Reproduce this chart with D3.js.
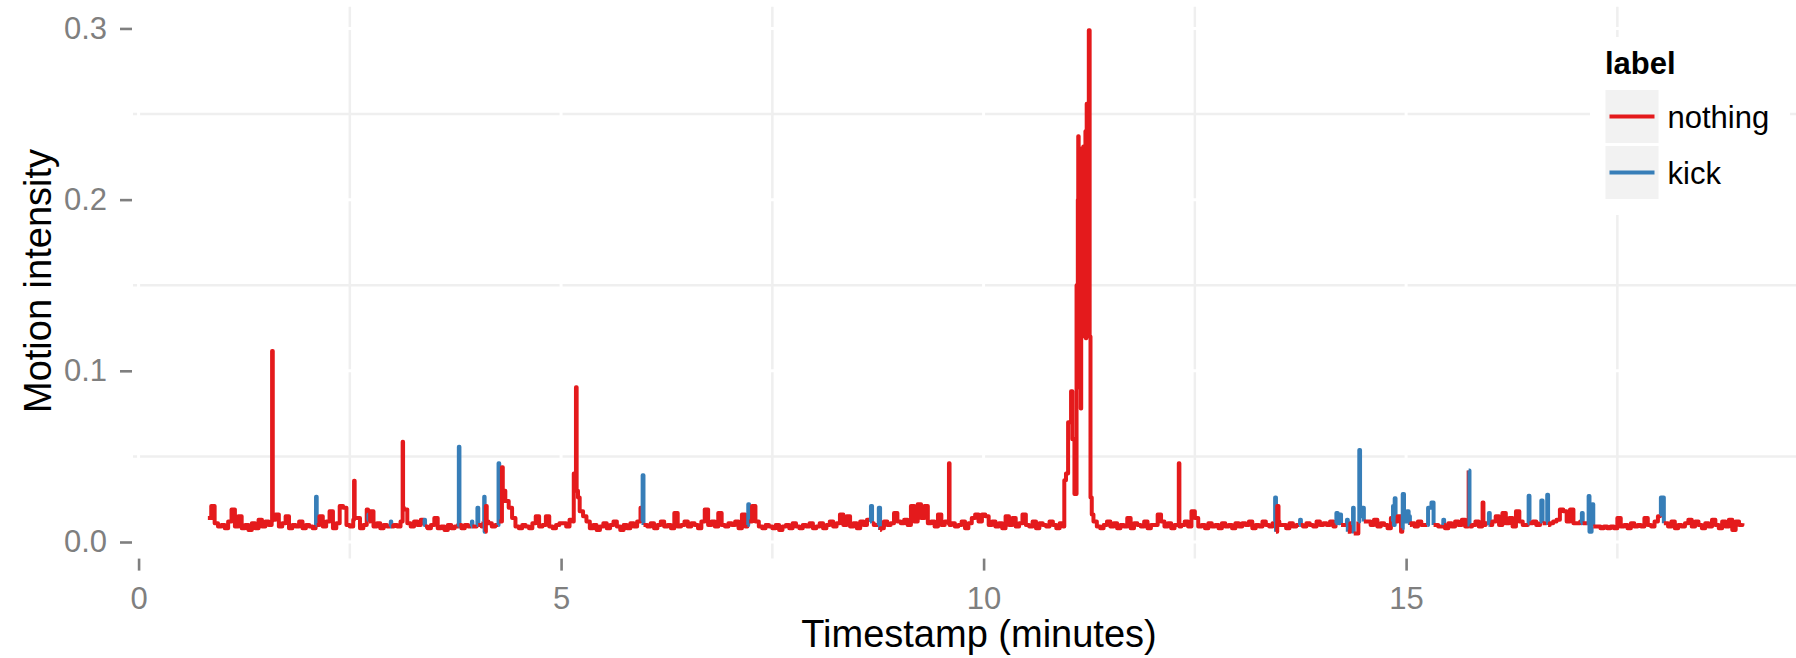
<!DOCTYPE html>
<html><head><meta charset="utf-8">
<script src="https://cdn.jsdelivr.net/npm/d3@7"></script>
<style>
body{margin:0;background:#fff;}
svg{display:block;}
text{font-family:"Liberation Sans",Arial,Helvetica,sans-serif;}
</style>
</head><body>
<svg id="chart" width="1796" height="658"></svg>
<script>
// ---------- DATA ----------
const labelNames = ["nothing", "kick"];
const labelColors = ["#E41A1C", "#377EB8"];
const xTicks = [0, 5, 10, 15];
const yTicks = [0.0, 0.1, 0.2, 0.3];
const xMinor = [2.5, 7.5, 12.5, 17.5];
const yMinor = [0.05, 0.15, 0.25];

// baseline samples (motion intensity x 1000), every 0.04 min from 0.82 min, label "nothing"
const baseStart = 0.82, baseStep = 0.04;
const baseline = [
 14,21,11,9,10,
 8,12,19,9,15,8,10,7,11,8,13,9,12,10,null,16,9,11,15,8,10,9,12,8,10,
 9,8,null,15,9,12,18,8,11,21,20,10,9,13,14,8,10,19,18,9,11,8,10,9,null,
 10,9,12,19,11,9,12,10,13,null,8,10,14,8,9,7,10,8,9,10,8,10,9,null,9,
 null,9,null,11,9,10,null,null,24,20,14,9,8,10,9,8,11,15,9,10,15,9,8,10,11,
 11,9,13,12,null,18,15,12,8,10,7,9,11,8,10,12,9,7,10,8,11,9,12,20,10,
 9,11,8,10,12,9,10,8,17,9,10,12,9,11,10,8,12,19,10,12,9,17,10,9,11,
 10,12,8,16,9,null,21,12,9,8,10,9,8,10,7,9,10,8,11,9,8,10,9,11,8,
 9,11,8,10,12,9,11,16,10,15,9,11,8,12,10,13,null,10,null,8,12,10,11,17,12,
 11,13,10,21,12,22,14,21,11,12,9,16,10,12,null,11,9,10,12,8,11,14,16,12,16,
 15,10,12,9,11,8,15,10,14,9,11,16,10,9,12,8,11,10,9,12,10,8,11,9,null,
 null,null,null,null,null,null,null,12,9,8,10,12,9,11,8,10,9,14,8,11,10,9,12,8,10,
 10,16,12,9,11,8,10,null,10,12,9,18,14,9,10,8,11,9,10,8,11,9,10,8,11,
 9,11,10,12,8,10,9,12,10,9,11,null,10,10,8,11,9,10,null,9,11,10,9,12,10,
 11,10,12,9,null,null,10,null,11,5,null,null,null,12,10,13,9,11,10,8,14,null,15,6,null,
 null,11,9,12,10,null,null,null,10,9,null,8,11,9,12,10,13,9,null,10,12,9,null,11,null,
 12,15,10,17,11,14,9,18,12,10,null,null,12,10,null,null,null,11,12,13,19,18,12,19,11,
 11,12,null,null,null,null,9,8,9,8,9,8,14,9,10,8,11,9,10,9,14,10,9,12,15,
 null,11,9,12,8,10,9,11,13,9,12,10,8,11,9,13,10,8,12,9,13,7,12,10,11
];

// spikes and kick events: [minutes, intensity x 1000, label index]
const events = [
 [1.575,12,0],[1.58,111.6,0],[1.588,13,0],
 [2.095,10,1],[2.10,26.5,1],[2.108,10,0],
 [2.545,13,0],[2.55,35.8,0],[2.557,14,0],
 [2.715,13,1],[2.72,16,1],[2.725,12,0],
 [2.975,9,1],[2.985,12,1],[2.99,9,0],
 [3.12,12,0],[3.125,58.6,0],[3.13,20,0],
 [3.375,10,1],[3.385,13,1],[3.39,9,0],
 [3.785,9,1],[3.79,55.7,1],[3.797,10,0],
 [3.935,9,1],[3.945,12,1],[3.95,9,0],
 [4.00,10,1],[4.01,20,1],[4.02,10,0],
 [4.08,12,1],[4.09,26.5,1],[4.095,6,1],[4.10,6,0],[4.11,21,0],[4.12,12,0],
 [4.255,10,1],[4.26,46,1],[4.268,12,0],
 [4.295,12,0],[4.30,43.6,0],[4.31,30,0],
 [5.145,12,0],[5.15,40,0],[5.168,40,0],[5.176,90.4,0],[5.184,30,0],[5.20,26,0],
 [5.955,12,1],[5.965,39,1],[5.975,10,0],
 [7.205,10,1],[7.215,22,1],[7.225,12,0],
 [8.655,12,1],[8.667,21,1],[8.68,11,0],
 [8.75,10,1],[8.76,20,1],[8.775,7,0],
 [9.585,11,0],[9.59,46,0],[9.597,10,0],
 [10.955,36,0],[10.975,40,0],[11.00,70,0],[11.035,88,0],[11.05,60,0],[11.075,28,0],
 [11.10,150,0],[11.105,90,0],[11.115,200,0],[11.12,237,0],[11.125,160,0],[11.13,130,0],
 [11.135,220,0],[11.14,215,0],[11.145,120,0],[11.15,78,0],[11.155,190,0],[11.16,200,0],
 [11.165,230,0],[11.17,120,0],[11.175,140,0],[11.18,231,0],[11.185,210,0],[11.19,125,0],
 [11.195,130,0],[11.20,225,0],[11.205,240,0],[11.21,119,0],[11.215,150,0],[11.22,256,0],
 [11.225,200,0],[11.23,160,0],[11.235,250,0],[11.24,170,0],[11.245,299,0],[11.255,120,0],
 [11.265,26,0],[11.28,16,0],
 [12.305,10,0],[12.31,46,0],[12.317,9,0],
 [13.44,12,1],[13.45,26,1],[13.46,6,0],[13.475,21,0],[13.49,12,0],
 [13.735,10,1],[13.745,13,1],[13.755,10,0],
 [14.165,11,1],[14.175,17,1],[14.19,12,1],[14.205,11,1],[14.215,16,1],[14.23,10,0],
 [14.29,11,1],[14.30,13,1],[14.31,6,0],
 [14.365,10,1],[14.372,20,1],
 [14.435,12,1],[14.446,53.7,1],[14.455,15,1],[14.47,20,1],[14.49,20,1],[14.50,12,0],
 [14.835,12,1],[14.845,21,1],[14.855,10,1],[14.865,25.5,1],[14.875,12,0],
 [14.955,8,1],[14.96,28,1],[14.975,12,1],[15.01,18,1],[15.03,15,1],[15.045,10,0],
 [15.25,10,1],[15.26,20,1],[15.285,20,1],[15.30,23,1],[15.315,23,1],[15.325,10,0],
 [15.435,10,1],[15.44,13,1],[15.45,10,0],
 [15.735,12,0],[15.74,41.7,1],[15.75,9,0],
 [15.90,10,0],[15.905,23,0],[15.915,10,0],
 [15.975,10,1],[15.98,17,1],[15.99,10,0],
 [16.44,11,1],[16.45,27,1],[16.46,11,0],
 [16.585,12,1],[16.60,24.3,1],[16.615,11,0],
 [16.66,12,1],[16.67,27.6,1],[16.68,10,0],
 [17.07,11,1],[17.08,17,1],[17.09,11,0],
 [17.15,10,1],[17.16,26.9,1],[17.17,6,1],[17.195,10,1],[17.205,22,1],[17.215,9,0],
 [18.005,16,1],[18.015,26,1],[18.025,26,1],[18.05,11,0]
];

// ---------- BUILD POINTS ----------
let pts = [];
baseline.forEach((v, i) => {
  if (v !== null) pts.push({t: +(baseStart + i * baseStep).toFixed(3), v: v / 1000, l: 0});
});
events.forEach(e => pts.push({t: e[0], v: e[1] / 1000, l: e[2]}));
pts.sort((a, b) => a.t - b.t);

// ---------- LAYOUT ----------
const svg = d3.select("#chart");
const P = {left: 133, right: 1796, top: 6.7, bottom: 558.6};
const x = d3.scaleLinear().domain([-0.066, 19.614]).range([P.left, P.right]);
const y = d3.scaleLinear().domain([-0.0097, 0.3127]).range([P.bottom, P.top]);

svg.append("rect").attr("width", 1796).attr("height", 658).attr("fill", "#fff");

// minor grid (visible)
const grid = svg.append("g");
grid.selectAll(".hm").data(yMinor).enter().append("line")
  .attr("x1", P.left).attr("x2", P.right).attr("y1", d => y(d)).attr("y2", d => y(d))
  .attr("stroke", "#efefef").attr("stroke-width", 2.5);
grid.selectAll(".vm").data(xMinor).enter().append("line")
  .attr("y1", P.top).attr("y2", P.bottom).attr("x1", d => x(d)).attr("x2", d => x(d))
  .attr("stroke", "#efefef").attr("stroke-width", 2.5);
// major grid (white)
grid.selectAll(".hM").data(yTicks).enter().append("line")
  .attr("x1", P.left).attr("x2", P.right).attr("y1", d => y(d)).attr("y2", d => y(d))
  .attr("stroke", "#ffffff").attr("stroke-width", 3);
grid.selectAll(".vM").data(xTicks).enter().append("line")
  .attr("y1", P.top).attr("y2", P.bottom).attr("x1", d => x(d)).attr("x2", d => x(d))
  .attr("stroke", "#ffffff").attr("stroke-width", 3);

// ---------- LINE (segments coloured by starting point label) ----------
svg.append("clipPath").attr("id", "clip").append("rect")
  .attr("x", P.left).attr("y", P.top).attr("width", P.right - P.left).attr("height", P.bottom - P.top);
const runs = [];
let cur = null;
for (let i = 0; i < pts.length - 1; i++) {
  if (!cur || cur.l !== pts[i].l) {
    if (cur) runs.push(cur);
    cur = {l: pts[i].l, pts: [pts[i]]};
  }
  cur.pts.push(pts[i + 1]);
}
if (cur) runs.push(cur);
const line = d3.line().x(d => x(d.t)).y(d => y(d.v)).curve(d3.curveStepAfter);
const lg = svg.append("g").attr("clip-path", "url(#clip)");
runs.forEach(r => {
  lg.append("path").attr("d", line(r.pts)).attr("fill", "none")
    .attr("stroke", labelColors[r.l]).attr("stroke-width", 4)
    .attr("stroke-linejoin", "round").attr("stroke-linecap", "butt");
});

// ---------- AXES ----------
const axY = svg.append("g").attr("transform", `translate(${P.left - 1},0)`)
  .call(d3.axisLeft(y).tickValues(yTicks).tickFormat(d3.format(".1f")).tickSize(12).tickPadding(13));
const axX = svg.append("g").attr("transform", `translate(0,${P.bottom})`)
  .call(d3.axisBottom(x).tickValues(xTicks).tickFormat(d3.format("d")).tickSize(12).tickPadding(16));
[axX, axY].forEach(a => {
  a.select(".domain").remove();
  a.selectAll("line").attr("stroke", "#7f7f7f").attr("stroke-width", 2.6);
  a.selectAll("text").attr("fill", "#7f7f7f").style("font-size", "31px")
    .style("font-family", '"Liberation Sans",Arial,sans-serif');
});

svg.append("text").attr("x", 979).attr("y", 647).attr("text-anchor", "middle")
  .style("font-size", "38px").attr("fill", "#000").text("Timestamp (minutes)");
svg.append("text").attr("transform", "translate(51,281) rotate(-90)").attr("text-anchor", "middle")
  .style("font-size", "38px").attr("fill", "#000").text("Motion intensity");

// ---------- LEGEND ----------
const leg = svg.append("g");
leg.append("rect").attr("x", 1590).attr("y", 37).attr("width", 200).attr("height", 178).attr("fill", "#fff");
leg.append("text").attr("x", 1605).attr("y", 74).style("font-size", "31px").style("font-weight", "bold")
  .attr("fill", "#000").text("label");
const keyTop = [90, 146];
labelNames.forEach((name, i) => {
  const g = leg.append("g").attr("transform", `translate(1605.5,${keyTop[i]})`);
  g.append("rect").attr("width", 53).attr("height", 53).attr("fill", "#f2f2f2");
  g.append("line").attr("x1", 4).attr("x2", 49).attr("y1", 26.5).attr("y2", 26.5)
    .attr("stroke", labelColors[i]).attr("stroke-width", 4);
  g.append("text").attr("x", 62).attr("y", 38).style("font-size", "31px").attr("fill", "#000").text(name);
});
</script>
</body></html>
